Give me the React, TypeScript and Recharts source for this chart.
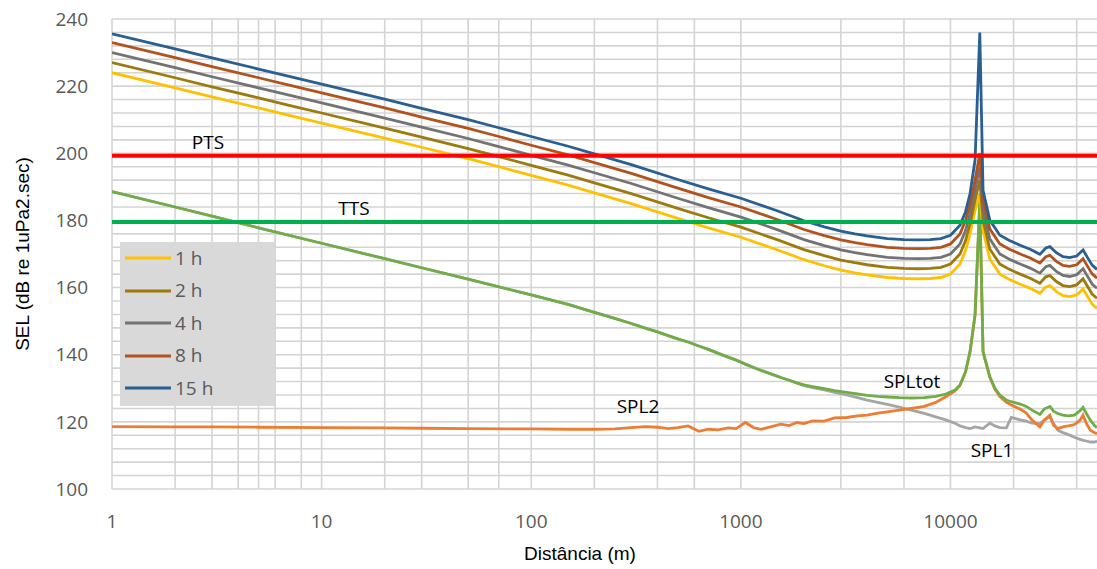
import { LineChart, Line, XAxis, YAxis, CartesianGrid, ReferenceLine, Legend } from 'recharts'

// distances (m) for the SEL curves
const selDist = [
  1, 2, 3, 5, 7, 10, 20, 30, 50, 70,
  100, 150, 200, 300, 500, 700, 1000, 1500, 2000, 2500,
  3000, 3500, 4000, 5000, 6000, 7000, 8000, 9000, 10000, 11100,
  11800, 12400, 13100, 13800, 14300, 15400, 17200, 19000, 21500, 24000,
  26700, 28500, 29800, 32000, 34400, 37000, 40000, 42900, 45000, 47500,
  50000,
]
const sel1h = [
  224.0, 219.5, 216.8, 213.5, 211.3, 209.0, 204.5, 201.8, 198.4, 196.0,
  193.4, 190.5, 188.2, 185.0, 180.6, 177.8, 175.0, 171.2, 168.3, 166.5,
  165.2, 164.4, 163.8, 163.0, 162.7, 162.6, 162.7, 163.0, 164.0, 167.0,
  171.0, 176.0, 183.0, 188.0, 177.0, 168.5, 164.0, 162.5, 161.0, 159.8,
  158.3, 160.2, 160.6, 158.8, 157.6, 157.3, 157.8, 159.6, 157.4, 155.0,
  153.8,
]
const sel2h = [
  227.0, 222.5, 219.8, 216.5, 214.3, 212.0, 207.5, 204.8, 201.4, 199.0,
  196.4, 193.5, 191.2, 188.0, 183.6, 180.8, 178.0, 174.2, 171.3, 169.5,
  168.2, 167.4, 166.8, 166.0, 165.7, 165.6, 165.7, 166.0, 167.0, 170.0,
  174.0, 179.0, 186.0, 192.0, 180.0, 171.5, 167.0, 165.5, 164.0, 162.8,
  161.3, 163.2, 163.6, 161.8, 160.6, 160.3, 160.8, 162.6, 160.4, 158.0,
  156.8,
]
const sel4h = [
  230.0, 225.5, 222.8, 219.5, 217.3, 215.0, 210.5, 207.8, 204.4, 202.0,
  199.4, 196.5, 194.2, 191.0, 186.6, 183.8, 181.0, 177.2, 174.3, 172.5,
  171.2, 170.4, 169.8, 169.0, 168.7, 168.6, 168.7, 169.0, 170.0, 173.0,
  177.0, 182.0, 189.0, 196.0, 183.0, 174.5, 170.0, 168.5, 167.0, 165.8,
  164.3, 166.2, 166.6, 164.8, 163.6, 163.3, 163.8, 165.6, 163.4, 161.0,
  159.8,
]
const sel8h = [
  233.0, 228.5, 225.8, 222.5, 220.3, 218.0, 213.5, 210.8, 207.4, 205.0,
  202.4, 199.5, 197.2, 194.0, 189.6, 186.8, 184.0, 180.2, 177.3, 175.5,
  174.2, 173.4, 172.8, 172.0, 171.7, 171.6, 171.7, 172.0, 173.0, 176.0,
  180.0, 185.0, 192.0, 200.0, 186.0, 177.5, 173.0, 171.5, 170.0, 168.8,
  167.3, 169.2, 169.6, 167.8, 166.6, 166.3, 166.8, 168.6, 166.4, 164.0,
  162.8,
]
const sel15h = [
  235.6, 231.1, 228.4, 225.1, 222.9, 220.6, 216.1, 213.4, 210.0, 207.6,
  205.0, 202.1, 199.8, 196.6, 192.2, 189.4, 186.6, 182.8, 179.9, 178.1,
  176.8, 176.0, 175.4, 174.6, 174.3, 174.2, 174.3, 174.6, 175.6, 178.6,
  182.6, 188.0, 198.0, 236.0, 189.0, 180.1, 175.6, 174.1, 172.6, 171.4,
  169.9, 171.8, 172.2, 170.4, 169.2, 168.9, 169.4, 171.2, 169.0, 166.6,
  165.4,
]

// distances (m) for the SPL curves
const splDist = [
  1, 2, 3, 5, 10, 20, 30, 50, 100, 150,
  200, 250, 300, 350, 400, 450, 500, 560, 630, 700,
  780, 870, 950, 1050, 1150, 1250, 1400, 1550, 1700, 1850,
  2000, 2200, 2500, 2800, 3200, 3600, 4000, 4500, 5000, 5700,
  6500, 7500, 8500, 9500, 10500, 11100, 11800, 12400, 13100, 13800,
  14300, 15400, 16300, 17200, 18500, 19500, 21500, 23000, 24500, 26700,
  28000, 29800, 31000, 32500, 34400, 36500, 39000, 41500, 42900, 44500,
  46500, 48500, 50000,
]
const splTot = [
  188.6, 184.0, 181.3, 177.8, 173.2, 168.6, 165.9, 162.5, 157.8, 155.0,
  152.6, 150.8, 149.3, 147.9, 146.8, 145.7, 144.7, 143.8, 142.6, 141.6,
  140.4, 139.3, 138.4, 137.2, 136.2, 135.3, 134.2, 133.2, 132.4, 131.6,
  131.0, 130.5, 129.9, 129.3, 128.8, 128.3, 127.9, 127.6, 127.4, 127.2,
  127.1, 127.2, 127.6, 128.3, 129.5, 131.0, 135.0, 141.0, 152.0, 186.0,
  141.0, 133.5, 130.0, 128.0, 126.5, 126.0, 125.3, 124.6, 123.5, 122.2,
  123.8, 124.6, 123.2, 122.5, 122.0, 121.8, 122.0, 123.3, 124.3, 122.5,
  120.5, 119.0, 118.3,
]
const spl2 = [
  118.6, 118.5, 118.5, 118.4, 118.3, 118.2, 118.1, 118.0, 117.9, 117.8,
  117.8, 117.9, 118.3, 118.6, 118.4, 118.0, 118.3, 118.8, 117.2, 117.8,
  117.6, 118.2, 118.0, 119.8, 118.3, 117.8, 118.6, 119.3, 118.9, 119.8,
  119.5, 120.3, 120.2, 121.2, 121.3, 121.8, 122.0, 122.6, 123.0, 123.5,
  124.0, 124.6, 125.8, 127.5, 129.2, 130.8, 134.8, 140.8, 151.8, 185.0,
  140.8, 133.3, 129.7, 127.5, 125.8, 125.0, 123.8, 122.6, 120.5, 118.5,
  120.5, 122.0, 119.0, 118.0, 118.5, 118.8, 119.2, 120.5, 122.0, 119.5,
  117.5, 116.8, 116.5,
]
const spl1 = [
  188.6, 184.0, 181.3, 177.8, 173.2, 168.6, 165.9, 162.5, 157.8, 155.0,
  152.6, 150.8, 149.3, 147.9, 146.8, 145.7, 144.7, 143.8, 142.6, 141.6,
  140.4, 139.3, 138.4, 137.2, 136.2, 135.3, 134.2, 133.2, 132.4, 131.5,
  130.8, 130.2, 129.5, 128.8, 128.0, 127.2, 126.5, 125.8, 125.2, 124.4,
  123.5, 122.5, 121.5, 120.6, 119.6, 118.8, 118.3, 118.0, 118.5, 118.2,
  118.0, 119.6, 118.8, 118.3, 118.2, 121.3, 120.6, 120.2, 119.6, 119.5,
  120.5, 121.5, 119.5, 117.5, 116.8, 116.2, 115.4, 114.8, 114.5, 114.3,
  114.0, 114.0, 114.2,
]

const xTicks = [1, 10, 100, 1000, 10000]
const yTicks = [100, 120, 140, 160, 180, 200, 220, 240]
const yMin = 100
const yMax = 240
const PTS = 199.3
const TTS = 179.5

const gridX = xTicks.flatMap(d => [1, 2, 3, 4, 5, 6, 7, 8, 9].map(k => k * d)).filter(v => v < 50000)
const gridY = Array.from({ length: 36 }, (_, i) => yMin + i * 4)

const selSeries = [
  { key: 'h1', name: '1 h', color: '#FFC000', values: sel1h },
  { key: 'h2', name: '2 h', color: '#9C7A0C', values: sel2h },
  { key: 'h4', name: '4 h', color: '#737373', values: sel4h },
  { key: 'h8', name: '8 h', color: '#B1531E', values: sel8h },
  { key: 'h15', name: '15 h', color: '#2A5F92', values: sel15h },
]
const splSeries = [
  { key: 'spl1', color: '#A5A5A5', values: spl1 },
  { key: 'spl2', color: '#ED7D31', values: spl2 },
  { key: 'spltot', color: '#70AD47', values: splTot },
]

const selRows = selDist.map((d, i) => {
  const row: Record<string, number> = { d }
  selSeries.forEach(s => { row[s.key] = s.values[i] })
  return row
})
const splRows = splDist.map((d, i) => {
  const row: Record<string, number> = { d }
  splSeries.forEach(s => { row[s.key] = s.values[i] })
  return row
})

const tickFont = { fontFamily: '"Open Sans", sans-serif', fontSize: 19, fill: '#595959' }

function LegendBox() {
  return (
    <div style={{ background: '#d9d9d9', width: 155, height: 164, boxSizing: 'border-box', paddingLeft: 5 }}>
      {selSeries.map(s => (
        <div key={s.key} style={{ display: 'flex', alignItems: 'center', height: 32.5 }}>
          <svg width={46} height={4} style={{ display: 'block' }}>
            <line x1={0} y1={2} x2={46} y2={2} stroke={s.color} strokeWidth={3} />
          </svg>
          <span style={{ marginLeft: 4, fontFamily: '"Open Sans", sans-serif', fontSize: 19, color: '#595959', lineHeight: 1 }}>{s.name}</span>
        </div>
      ))}
    </div>
  )
}

function Note({ x, y, text, size = 19, font = '"Open Sans", sans-serif', rotate = 0 }: { x: number; y: number; text: string; size?: number; font?: string; rotate?: number }) {
  return (
    <div style={{
      position: 'absolute', left: x, top: y, transform: `translate(-50%, -50%) rotate(${rotate}deg)`,
      fontFamily: font, fontSize: size, color: '#000', whiteSpace: 'nowrap', lineHeight: 1,
    }}>{text}</div>
  )
}

// horizontal minor grid every 4 dB, placed inside the plot box
const hGrid = ({ offset }: any) =>
  gridY.map(v => offset.top + ((yMax - v) / (yMax - yMin)) * offset.height)

export default function App() {
  return (
    <div style={{ position: 'absolute', left: 0, top: 0, width: 1097, height: 569, background: '#fff' }}>
      <LineChart width={1097} height={569} margin={{ top: 19, right: 0, left: 0, bottom: 30 }}>
        <CartesianGrid verticalValues={gridX} horizontalCoordinatesGenerator={hGrid}
          stroke="#d4d4d4" strokeWidth={1.6} />
        <XAxis dataKey="d" type="number" scale="log" domain={[1, 50000]} ticks={xTicks} allowDataOverflow
          axisLine={false} tickLine={false} tickSize={0} tickMargin={26} height={50} tick={tickFont} />
        <YAxis type="number" domain={[yMin, yMax]} ticks={yTicks} allowDataOverflow width={112}
          axisLine={false} tickLine={false} tickSize={0} tickMargin={24} tick={tickFont} />
        {splSeries.map(s => (
          <Line key={s.key} data={splRows} dataKey={s.key} type="linear" stroke={s.color} strokeWidth={2.8}
            dot={false} activeDot={false} legendType="none" isAnimationActive={false} />
        ))}
        {selSeries.map(s => (
          <Line key={s.key} data={selRows} dataKey={s.key} name={s.name} type="linear" stroke={s.color} strokeWidth={2.8}
            dot={false} activeDot={false} isAnimationActive={false} />
        ))}
        <ReferenceLine y={PTS} stroke="#FF0000" strokeWidth={4} />
        <ReferenceLine y={TTS} stroke="#00B050" strokeWidth={4} />
        <Legend layout="vertical" align="center" verticalAlign="middle"
          wrapperStyle={{ left: 120, top: 242, width: 155, height: 164 }} content={() => <LegendBox />} />
      </LineChart>
      <Note x={208} y={142} text="PTS" />
      <Note x={354} y={208} text="TTS" />
      <Note x={638} y={406} text="SPL2" />
      <Note x={912} y={381} text="SPLtot" />
      <Note x={992} y={450} text="SPL1" />
      <Note x={580} y={553} text="Distância (m)" size={19} font='"Liberation Sans", Arial, sans-serif' />
      <Note x={22} y={254} text="SEL (dB re 1uPa2.sec)" size={19} font='"Liberation Sans", Arial, sans-serif' rotate={-90} />
    </div>
  )
}
